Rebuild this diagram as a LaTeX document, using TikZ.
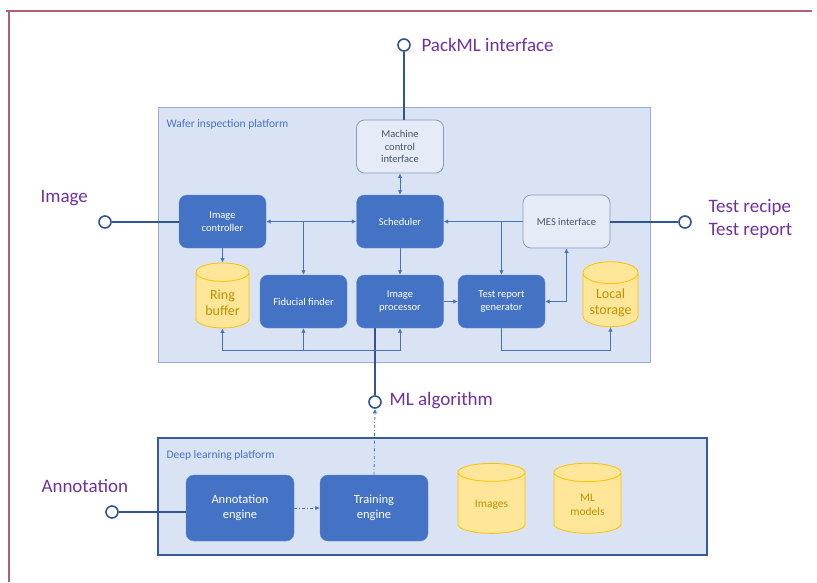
\documentclass[tikz,border=0pt]{standalone}
\usepackage{fontspec}
\setmainfont{Carlito}
\usepackage{tikz}
\usetikzlibrary{arrows.meta,shapes.geometric,positioning,calc}
\definecolor{wiblue}{RGB}{68,114,196}
\definecolor{widark}{RGB}{47,85,151}
\definecolor{wipale}{RGB}{218,227,243}
\definecolor{wiedge}{RGB}{150,172,215}
\definecolor{wislate}{RGB}{68,84,106}
\definecolor{wiyellow}{RGB}{255,230,153}
\definecolor{wigold}{RGB}{255,192,0}
\definecolor{wibrown}{RGB}{191,144,0}
\definecolor{wipurple}{RGB}{112,48,160}
\definecolor{wiframe}{RGB}{176,96,110}
\tikzstyle{block} = [rectangle, rounded corners=8pt, minimum width=87pt, minimum height=53pt, align=center, font=\fontsize{10.5}{12.5}\selectfont]
\tikzstyle{solid block} = [block, fill=wiblue, draw=wiblue!85!white, text=white]
\tikzstyle{light block} = [block, fill=wipale!70!white, draw=wiedge!90!black, thick, text=wislate]
\tikzstyle{store} = [cylinder, shape border rotate=90, aspect=0.45, draw=wigold, thick, fill=wiyellow, text=wibrown, align=center]
\tikzstyle{port} = [circle, draw=widark, line width=1.6pt, fill=white, inner sep=0pt, minimum size=12pt]
\tikzstyle{ext} = [font=\fontsize{19}{23}\selectfont, text=wipurple, align=left]
\tikzstyle{link} = [wiblue, line width=0.8pt, >={Latex[length=4.5pt,width=4.5pt]}]
\tikzstyle{wire} = [widark, line width=1.6pt]

\begin{document}
\begin{tikzpicture}[x=1pt,y=-1pt]
\useasboundingbox (0,0) rectangle (817,582);
% Page frame
\draw[wiframe, line width=1.2pt] (6,11) -- (812,11);
\draw[wiframe, line width=1.2pt] (9,11) -- (9,582);

% Platforms
\draw[fill=wipale, draw=wiedge, line width=1pt] (158,107) rectangle (650,362);
\node[anchor=west, text=wiblue, font=\fontsize{11.5}{13}\selectfont] (wtitle) at (163,124) {Wafer inspection platform};
\draw[fill=wipale, draw=wiblue!80!black, line width=1.4pt] (158,438) rectangle (707,555);
\node[anchor=west, text=wiblue, font=\fontsize{11.5}{13}\selectfont] (dtitle) at (163,455) {Deep learning platform};

% Wafer inspection blocks
\node[light block] (mci) at (400,146.5) {Machine\\control\\interface};
\node[solid block] (sched) at (400,221.5) {Scheduler};
\node[solid block] (ictrl) at (222.5,221.5) {Image\\controller};
\node[light block] (mes) at (566.5,221.5) {MES interface};
\node[store, minimum width=53pt, minimum height=65pt, font=\fontsize{14}{16}\selectfont] (ring) at (222.5,302.5) {Ring\\buffer};
\node[solid block] (fid) at (303.5,301.5) {Fiducial finder};
\node[solid block] (proc) at (400,301.5) {Image\\processor};
\node[solid block] (trg) at (501.5,301.5) {Test report\\generator};
\node[store, minimum width=55pt, minimum height=65pt, font=\fontsize{14}{16}\selectfont] (local) at (610.5,302.5) {Local\\storage};

% Deep learning blocks
\node[solid block, minimum width=108pt, minimum height=66pt, font=\fontsize{12.5}{15}\selectfont] (annot) at (240,508) {Annotation\\engine};
\node[solid block, minimum width=108pt, minimum height=66pt, font=\fontsize{12.5}{15}\selectfont] (train) at (374,508) {Training\\engine};
\node[store, minimum width=67pt, minimum height=70pt, font=\fontsize{11.5}{13.5}\selectfont] (imgs) at (491.5,505) {Images};
\node[store, minimum width=67pt, minimum height=70pt, font=\fontsize{11.5}{13.5}\selectfont] (mlm) at (587.5,505) {ML\\models};

% Ports and their labels
\node[port] (ppack) at (404,45) {};
\node[ext, anchor=west] (lpack) at (418,45) {PackML interface};
\node[port] (pimg) at (105,222) {};
\node[ext, anchor=west] (limg) at (37,198) {Image};
\node[port] (pmes) at (685,222) {};
\node[ext, anchor=west] (lmes) at (705,219) {Test recipe\\Test report};
\node[port] (pml) at (375,402) {};
\node[ext, anchor=west] (lml) at (386,401) {ML algorithm};
\node[port] (pann) at (112,512) {};
\node[ext, anchor=west] (lann) at (38,486) {Annotation};

% External wires
\draw[wire] (ppack) -- (ppack |- mci.north);
\draw[wire] (pimg) -- (pimg -| ictrl.west);
\draw[wire] (pmes) -- (pmes -| mes.east);
\draw[wire] (pann) -- (pann -| annot.west);
\draw[wire] (pml) -- (pml |- proc.south);

% Internal links
\draw[link, <->] (mci.south) -- (sched.north);
\draw[link, <->] (ictrl.east) -- (sched.west);
\draw[link, ->] (ictrl.east -| fid.north) -- (fid.north);
\draw[link, ->] (mes.west) -- (sched.east);
\draw[link, ->] (mes.west -| trg.north) -- (trg.north);
\draw[link, ->] (sched.south) -- (proc.north);
\draw[link, ->] (ictrl.south) -- (ring.north);
\draw[link, ->] (proc.east) -- (trg.west);
\draw[link, <->] (trg.east) -| (mes.south);
\draw[link, <->] (ring.south) -- (ring.south |- 0,350) -- (proc.south |- 0,350) -- (proc.south);
\draw[link, ->] (fid.south |- 0,350) -- (fid.south);
\draw[link, ->] (trg.south) -- (trg.south |- 0,350) -| (local.south);

% Training flow
\draw[link, ->, dash dot] (annot.east) -- (train.west);
\draw[link, ->, dash dot] (train.north) -- (pml.south);
\end{tikzpicture}
\end{document}
